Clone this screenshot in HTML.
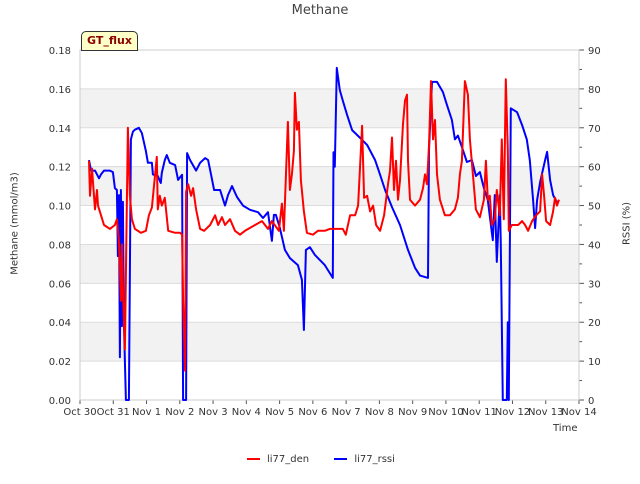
<!DOCTYPE html>
<html><head><meta charset="utf-8"><style>
body{margin:0;background:#fff;font-family:"DejaVu Sans","Liberation Sans",sans-serif}
svg text{font-family:"DejaVu Sans","Liberation Sans",sans-serif}
</style></head><body>
<svg id="c" width="640" height="480"></svg>
<script>
const dayLabels=["Oct 30","Oct 31","Nov 1","Nov 2","Nov 3","Nov 4","Nov 5","Nov 6","Nov 7","Nov 8","Nov 9","Nov 10","Nov 11","Nov 12","Nov 13","Nov 14"];
const leftTicks=[0,0.02,0.04,0.06,0.08,0.10,0.12,0.14,0.16,0.18];
const rightTicks=[0,10,20,30,40,50,60,70,80,90];
const denDays=[0.27,0.30,0.36,0.45,0.51,0.54,0.63,0.72,0.90,1.05,1.11,1.17,1.23,1.26,1.29,1.35,1.41,1.44,1.50,1.56,1.65,1.83,1.98,2.07,2.16,2.31,2.34,2.40,2.46,2.55,2.65,2.86,3.01,3.07,3.10,3.16,3.19,3.25,3.34,3.40,3.49,3.61,3.73,3.91,4.06,4.15,4.27,4.36,4.51,4.66,4.81,4.96,5.26,5.47,5.65,5.77,5.98,6.07,6.13,6.25,6.31,6.37,6.43,6.46,6.52,6.58,6.64,6.73,6.82,7.00,7.15,7.36,7.51,7.75,7.90,7.99,8.12,8.27,8.36,8.48,8.54,8.63,8.72,8.81,8.90,9.02,9.14,9.26,9.32,9.38,9.44,9.50,9.56,9.62,9.71,9.77,9.83,9.86,9.92,10.07,10.22,10.31,10.37,10.43,10.49,10.55,10.61,10.67,10.73,10.82,10.97,11.12,11.27,11.36,11.42,11.48,11.57,11.66,11.72,11.81,11.90,12.02,12.14,12.20,12.26,12.32,12.38,12.47,12.53,12.62,12.68,12.74,12.80,12.86,12.89,12.98,13.17,13.29,13.38,13.47,13.59,13.71,13.83,13.89,13.95,14.01,14.13,14.22,14.28,14.34,14.40];
const denVals=[0.123,0.105,0.119,0.098,0.108,0.100,0.095,0.090,0.088,0.090,0.093,0.082,0.051,0.080,0.057,0.026,0.103,0.140,0.105,0.093,0.088,0.086,0.087,0.095,0.099,0.125,0.098,0.105,0.100,0.104,0.087,0.086,0.086,0.085,0.051,0.015,0.107,0.111,0.105,0.109,0.098,0.088,0.087,0.090,0.095,0.090,0.094,0.090,0.093,0.087,0.085,0.087,0.090,0.092,0.088,0.092,0.087,0.101,0.087,0.143,0.108,0.116,0.128,0.158,0.139,0.143,0.113,0.097,0.086,0.085,0.087,0.087,0.088,0.088,0.088,0.085,0.095,0.095,0.100,0.141,0.104,0.105,0.097,0.100,0.090,0.087,0.095,0.111,0.118,0.135,0.108,0.123,0.103,0.113,0.142,0.154,0.157,0.123,0.103,0.100,0.103,0.109,0.116,0.111,0.131,0.164,0.134,0.144,0.116,0.103,0.095,0.095,0.098,0.104,0.116,0.123,0.164,0.157,0.134,0.116,0.098,0.094,0.103,0.123,0.103,0.105,0.090,0.093,0.108,0.095,0.134,0.093,0.165,0.129,0.087,0.090,0.090,0.092,0.090,0.087,0.092,0.095,0.097,0.116,0.105,0.092,0.090,0.097,0.104,0.100,0.103];
const rssiDays=[0.27,0.33,0.45,0.57,0.63,0.72,0.90,0.99,1.05,1.11,1.14,1.17,1.20,1.23,1.26,1.29,1.32,1.38,1.47,1.53,1.59,1.65,1.77,1.86,1.98,2.04,2.16,2.19,2.34,2.43,2.46,2.55,2.61,2.70,2.86,2.95,3.07,3.10,3.19,3.22,3.31,3.49,3.61,3.76,3.85,3.94,4.03,4.21,4.36,4.45,4.57,4.72,4.90,5.11,5.35,5.50,5.65,5.77,5.83,5.89,6.01,6.16,6.31,6.55,6.67,6.73,6.79,6.91,7.06,7.36,7.60,7.62,7.66,7.72,7.81,7.90,8.03,8.18,8.42,8.63,8.87,9.02,9.17,9.38,9.62,9.86,10.07,10.22,10.46,10.49,10.58,10.73,10.91,11.03,11.18,11.27,11.36,11.51,11.63,11.78,11.90,12.02,12.14,12.26,12.41,12.47,12.53,12.62,12.65,12.71,12.83,12.86,12.89,12.95,13.14,13.29,13.43,13.52,13.62,13.68,13.74,13.83,13.98,14.04,14.13,14.22,14.34];
const rssiVals=[61.7,59,59,57,58,59,59,58.6,54.5,54,37,52.7,11,54,19,51,20,0,0,67,69,69.5,70,68.6,64,61,61,58,57.6,55.8,58.4,61.7,63,61,60.4,56.6,57.9,0,0,63.5,61.7,59,61,62.2,61.7,57.9,54,54,50,52.7,55,52.2,50,48.9,48.3,46.8,48.3,40.9,47.6,47.6,44.2,38.6,36.5,34.7,30.9,18,38.6,39.3,37.3,34.7,31.4,63.7,60,85.4,79.7,77,73.3,69.4,67.4,65.6,61.7,57.9,54,49.6,45,38.6,34,32,31.4,64.3,81.8,81.8,79.2,75.9,72,67,68,64.3,61.2,61.7,57.6,58.6,54.5,51.4,41.1,52.7,35.5,52.7,39.9,0,0,20,0,75,74,70.7,67,61.7,51.4,44.2,51.4,56,61.7,63.8,56.6,52.7,50.9];

const NS="http://www.w3.org/2000/svg";
const svg=document.getElementById('c');
const L=80,R=579,T=50,B=400;
const xs=d=>L+d*(R-L)/15;
const yl=v=>B-v*(B-T)/0.18;
const yr=v=>B-v*(B-T)/90;
function el(tag,attrs,parent){const e=document.createElementNS(NS,tag);for(const k in attrs)e.setAttribute(k,attrs[k]);(parent||svg).appendChild(e);return e;}
for(let i=0;i<9;i++){
  if(i%2===1){const r=el('rect',{x:L,y:yl(leftTicks[i+1]),width:R-L,height:yl(leftTicks[i])-yl(leftTicks[i+1]),fill:'#f2f2f2'});
  
  }
}
leftTicks.forEach((v,i)=>{
  const g=el('line',{x1:L,x2:R,y1:yl(v),y2:yl(v),stroke:'#dcdcdc','stroke-width':1});
  
  
  const t=el('text',{x:L-9,y:yl(v)+4,'text-anchor':'end','font-size':10,fill:'#333'});
  t.textContent=v.toFixed(2);
  
  
});
rightTicks.forEach(v=>{
  const t=el('text',{x:R+9,y:yr(v)+4,'text-anchor':'start','font-size':10,fill:'#333'});
  t.textContent=v;
  
  
  el('line',{x1:R,x2:R+5,y1:yr(v),y2:yr(v),stroke:'#555'});
  if(v<90){el('line',{x1:R,x2:R+3,y1:yr(v+5),y2:yr(v+5),stroke:'#555'});}
});
dayLabels.forEach((s,i)=>{
  const t=el('text',{x:xs(i),y:B+15,'text-anchor':'middle','font-size':10,fill:'#333'});
  t.textContent=s;
  
  
  el('line',{x1:xs(i),x2:xs(i),y1:B,y2:B+4,stroke:'#555'});
});
el('rect',{x:L,y:T,width:R-L,height:B-T,fill:'none',stroke:'#ccc'});
function path(days,vals,sc,color,name){
  let d='';days.forEach((x,i)=>{d+=(i?'L':'M')+xs(x).toFixed(1)+','+sc(vals[i]).toFixed(1);});
  const p=el('path',{d:d,fill:'none',stroke:color,'stroke-width':2,'stroke-linejoin':'round'});
  
  
}
path(rssiDays,rssiVals,yr,'#0000ff','li77-rssi-line');
path(denDays,denVals,yl,'#ff0000','li77-den-line');
</script>
<div style="position:absolute;left:0;top:0;width:640px;height:480px;pointer-events:none">
<div style="position:absolute;top:3px;width:640px;text-align:center;font-size:13px;color:#444">Methane</div>
<div style="position:absolute;left:81px;top:31px;width:55px;height:18px;background:#ffffc8;border:1px solid #333;border-radius:5px 5px 0 0;font-size:11px;font-weight:bold;color:#8b0000;text-align:center;line-height:18px">GT_flux</div>
<div style="position:absolute;left:-40px;top:218px;width:110px;text-align:center;transform:rotate(-90deg);font-size:10px;color:#333">Methane (mmol/m3)</div>
<div style="position:absolute;left:597px;top:218px;width:60px;text-align:center;transform:rotate(-90deg);font-size:10px;color:#333">RSSI (%)</div>
<div style="position:absolute;left:553px;top:423px;font-size:10px;color:#333">Time</div>
<div style="position:absolute;left:247px;top:454px;font-size:10px;color:#333;white-space:nowrap">
<span><span style="display:inline-block;width:13px;height:2px;background:#f00;vertical-align:middle;margin-right:7px"></span>li77_den</span>
<span style="margin-left:22px"><span style="display:inline-block;width:13px;height:2px;background:#00f;vertical-align:middle;margin-right:7px"></span>li77_rssi</span>
</div>
</div>
</body></html>
